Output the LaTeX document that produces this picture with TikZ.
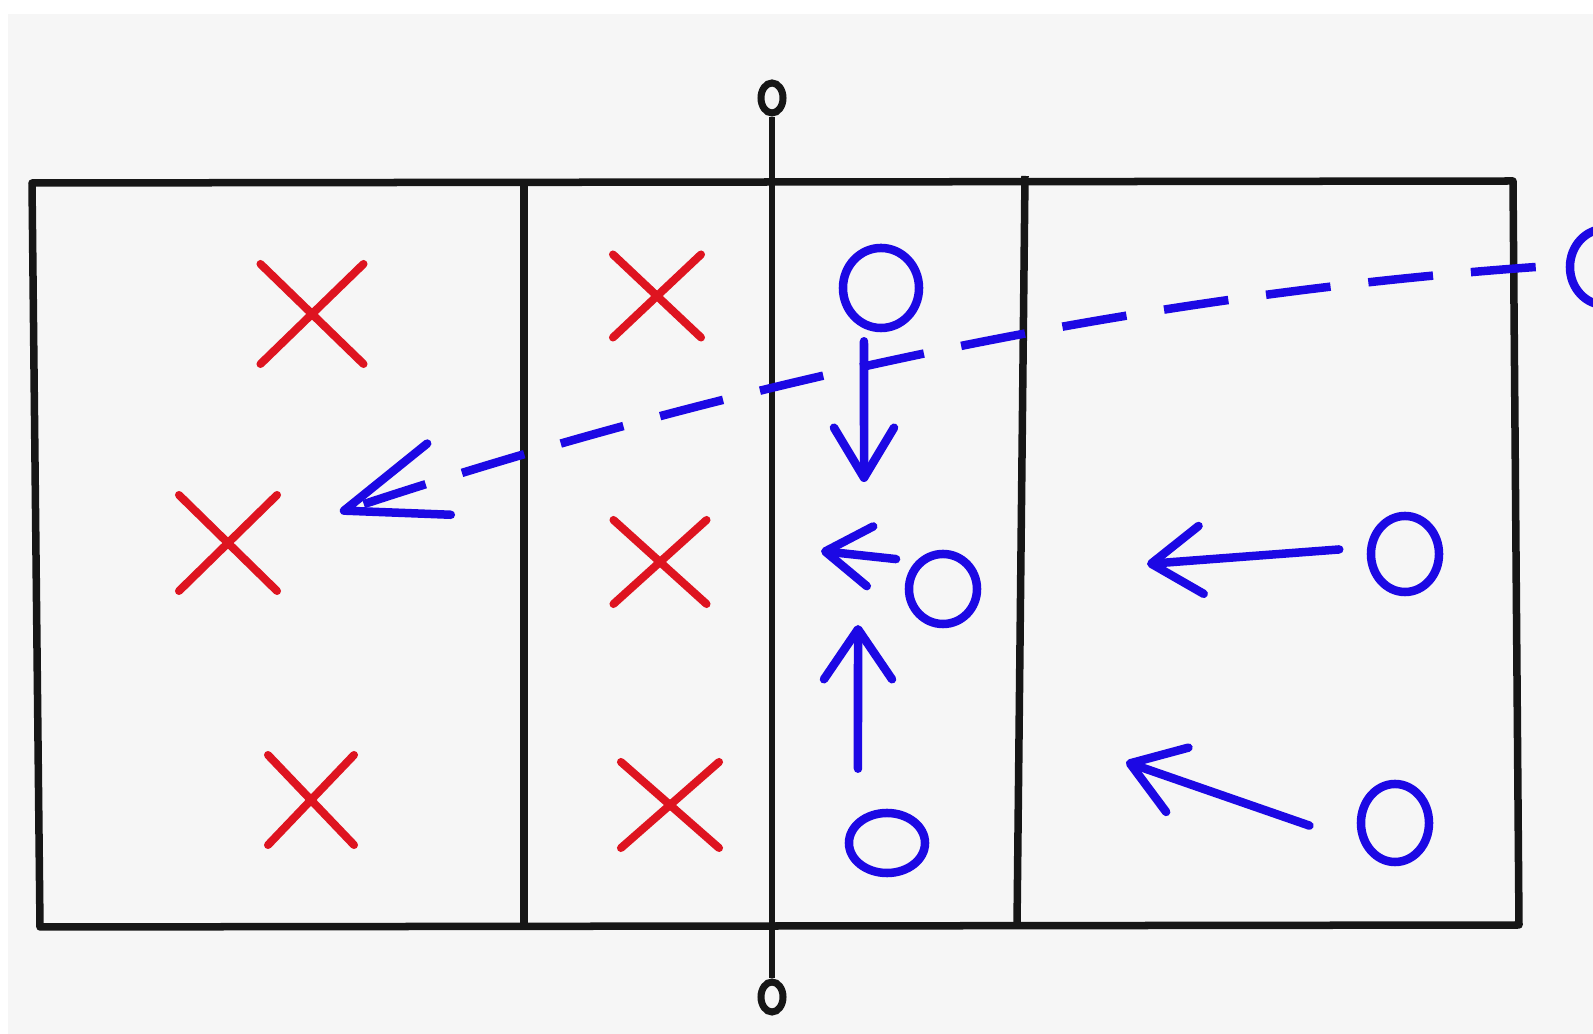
\documentclass[tikz,border=0pt]{standalone}
\usepackage{tikz}
\usetikzlibrary{arrows.meta, shapes.geometric, shapes.misc}

\definecolor{teamblue}{RGB}{28,8,228}
\definecolor{teamred}{RGB}{222,20,32}
\definecolor{courtink}{RGB}{22,22,22}
\definecolor{paper}{RGB}{246,246,246}

\tikzset{
  courtline/.style={draw=courtink, line width=0.075cm, line join=round},
  netline/.style={draw=courtink, line width=0.06cm},
  netpost/.style={draw=courtink, ellipse, line width=0.07cm, minimum width=0.22cm, minimum height=0.30cm, inner sep=0pt},
  xplayer/.style={draw=teamred, cross out, line width=0.08cm, line cap=round, inner sep=0pt},
  oplayer/.style={draw=teamblue, ellipse, line width=0.085cm, inner sep=0pt},
  runarrow/.style={draw=teamblue, line width=0.085cm, line cap=round,
    -{Straight Barb[length=5mm, width=6.8mm, round]}},
  passarrow/.style={draw=teamblue, line width=0.085cm, dash pattern=on 0.65cm off 0.38cm,
    -{Straight Barb[length=10mm, width=7.5mm, round]}}
}

\begin{document}
\begin{tikzpicture}[x=0.01cm, y=-0.01cm]
  % Page
  \useasboundingbox (0,0) rectangle (1593,1034);
  \fill[white] (0,0) rectangle (1593,1034);
  \fill[paper] (8,14) rectangle (1593,1034);
  \clip (0,0) rectangle (1593,1034);

  % Court
  \draw[courtline] (32,183) -- (1513,181) -- (1519,925) -- (40,927) -- cycle;
  \draw[courtline] (524,183) -- (524,927);
  \draw[courtline] (1025,176) -- (1017,926);

  % Net with its posts
  \node[netpost] (nettop) at (772,98) {};
  \node[netpost] (netbot) at (772,997) {};
  \draw[netline] (nettop) -- (netbot);

  % Red team
  \node[xplayer, minimum width=0.95cm, minimum height=0.92cm] (x1) at (312,314) {};
  \node[xplayer, minimum width=0.90cm, minimum height=0.88cm] (x2) at (228,543) {};
  \node[xplayer, minimum width=0.78cm, minimum height=0.82cm] (x3) at (311,800) {};
  \node[xplayer, minimum width=0.80cm, minimum height=0.75cm] (x4) at (657,296) {};
  \node[xplayer, minimum width=0.85cm, minimum height=0.76cm] (x5) at (660,562) {};
  \node[xplayer, minimum width=0.90cm, minimum height=0.78cm] (x6) at (670,805) {};

  % Blue team
  \node[oplayer, minimum width=0.76cm, minimum height=0.80cm] (o1) at (881,288) {};
  \node[oplayer, minimum width=0.68cm, minimum height=0.70cm] (o2) at (943,589) {};
  \node[oplayer, minimum width=0.76cm, minimum height=0.60cm] (o3) at (887,843) {};
  \node[oplayer, minimum width=0.68cm, minimum height=0.76cm] (o4) at (1405,554) {};
  \node[oplayer, minimum width=0.68cm, minimum height=0.78cm] (o5) at (1395,823) {};
  \node[oplayer, minimum width=0.70cm, minimum height=0.76cm] (o6) at (1605,267) {};

  % Moves
  \coordinate (t1) at (864,482);
  \coordinate (t2) at (821,551);
  \coordinate (t3) at (858,625);
  \coordinate (t4) at (1147,564);
  \coordinate (t5) at (1126,762);
  \coordinate (t6) at (340,512);
  \draw[runarrow, shorten <=0.9mm, -{Straight Barb[length=5mm, width=6mm, round]}] ([xshift=-1.7mm]o1.south) -- (t1);
  \draw[runarrow, shorten <=2mm, -{Straight Barb[length=4.5mm, width=6mm, round]}] (o2.north west) -- (t2);
  \draw[runarrow, shorten <=4mm] ([xshift=-2.9mm]o3.north) -- (t3);
  \draw[runarrow, shorten <=2.8mm] (o4.170) -- (t4);
  \draw[runarrow, shorten <=5mm] ([yshift=-1.9mm]o5.west) -- (t5);

  % Serve
  \draw[passarrow] ([xshift=-3mm]o6.west) .. controls (1147,295) and (747,377) .. (t6);
\end{tikzpicture}
\end{document}
